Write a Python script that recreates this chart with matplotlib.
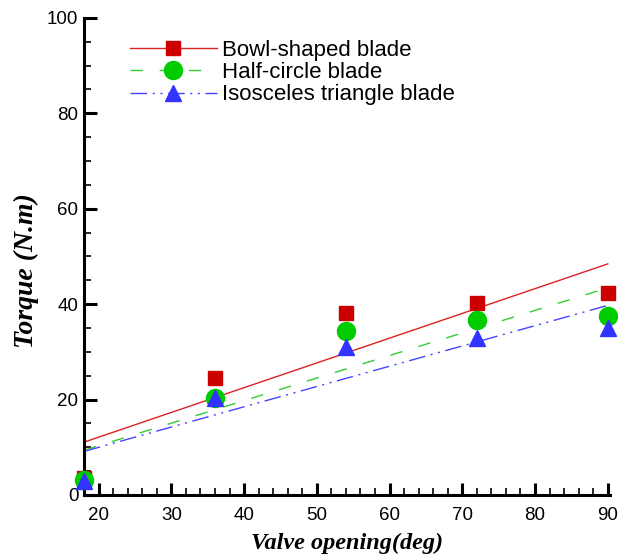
import matplotlib
matplotlib.use("Agg")
import matplotlib.pyplot as plt
import numpy as np
from matplotlib.lines import Line2D
from matplotlib.ticker import MultipleLocator

valve_opening = [18, 36, 54, 72, 90]
bowl_torque = [3.5, 24.5, 38.2, 40.3, 42.3]
half_circle_torque = [3.2, 20.3, 34.3, 36.6, 37.6]
triangle_torque = [3.0, 20.3, 31.0, 33.0, 34.9]

series_names = ["Bowl-shaped blade", "Half-circle blade", "Isosceles triangle blade"]


def main():
    fig = plt.figure(figsize=(6.18, 5.59), dpi=100)
    ax = fig.add_axes([0.136, 0.1145, 0.851, 0.8535])

    x = np.array(valve_opening, dtype=float)
    styles = [
        dict(color="#cc0000", line="#dd2222", ls="-", marker="s", ms=10),
        dict(color="#00cc00", line="#33cc33", ls=(0, (9, 12)), marker="o", ms=13),
        dict(color="#3333ff", line="#4444ff", ls=(0, (12, 4, 1.5, 4, 1.5, 4)), marker="^", ms=12),
    ]
    handles = []
    for y, st, name in zip([bowl_torque, half_circle_torque, triangle_torque], styles, series_names):
        # linear trend through the measured points
        k, b = np.polyfit(x, y, 1)
        xs = np.array([x[0], x[-1]])
        ax.plot(xs, k * xs + b, color=st["line"], ls=st["ls"], lw=1.0, zorder=2)
        ax.plot(x, y, ls="none", marker=st["marker"], ms=st["ms"], color=st["color"],
                mec=st["color"], clip_on=False, zorder=3)
        handles.append(Line2D([], [], color=st["line"], ls=st["ls"], lw=1.0,
                              marker=st["marker"], ms=st["ms"], mfc=st["color"], mec=st["color"]))

    ax.set_xlim(18, 90.3)
    ax.set_ylim(0, 100)
    ax.xaxis.set_major_locator(MultipleLocator(10))
    ax.xaxis.set_minor_locator(MultipleLocator(2))
    ax.yaxis.set_major_locator(MultipleLocator(20))
    ax.yaxis.set_minor_locator(MultipleLocator(5))

    for side in ["top", "right"]:
        ax.spines[side].set_visible(False)
    for side in ["left", "bottom"]:
        ax.spines[side].set_linewidth(2.2)

    ax.tick_params(which="major", direction="in", length=9, width=2.2, labelsize=13.5)
    ax.tick_params(which="minor", direction="in", length=5, width=1.2)
    ax.tick_params(axis="x", which="major", pad=9)
    ax.tick_params(axis="y", which="major", pad=4)
    for lab in ax.get_xticklabels() + ax.get_yticklabels():
        lab.set_fontfamily("Liberation Sans")

    ax.set_xlabel("Valve opening(deg)", fontfamily="Liberation Serif", fontstyle="italic",
                  fontweight="bold", fontsize=17.5, labelpad=6)
    ax.set_ylabel("Torque (N.m)", fontfamily="Liberation Serif", fontstyle="italic",
                  fontweight="bold", fontsize=20, labelpad=4)
    ax.yaxis.set_label_coords(-0.085, 0.47)

    ax.legend(handles, series_names, loc="upper left", bbox_to_anchor=(0.045, 1.0),
              frameon=False, handlelength=3.9, handletextpad=0.25, labelspacing=0.05,
              borderaxespad=0.6, prop={"family": "Liberation Sans", "size": 16})

    plt.savefig("out.png", dpi=100)


if __name__ == "__main__":
    main()
